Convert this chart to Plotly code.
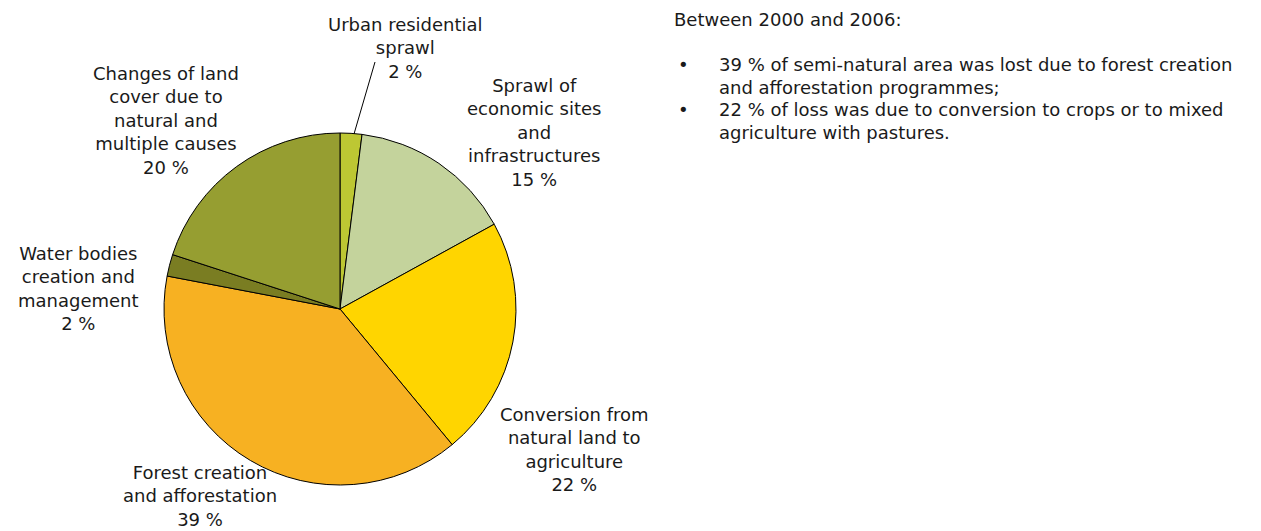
import plotly.graph_objects as go

# Shares of semi-natural area lost, 2000-2006 (%)
categories = [
    "Urban residential sprawl",
    "Sprawl of economic sites and infrastructures",
    "Conversion from natural land to agriculture",
    "Forest creation and afforestation",
    "Water bodies creation and management",
    "Changes of land cover due to natural and multiple causes",
]
shares = [2, 15, 22, 39, 2, 20]
slice_colors = ["#bdc733", "#c4d39c", "#ffd500", "#f7b122", "#7a7d22", "#969e31"]

# Label text (wrapped as drawn) for each slice
label_lines = [
    ["Urban residential", "sprawl"],
    ["Sprawl of", "economic sites", "and", "infrastructures"],
    ["Conversion from", "natural land to", "agriculture"],
    ["Forest creation", "and afforestation"],
    ["Water bodies", "creation and", "management"],
    ["Changes of land", "cover due to", "natural and", "multiple causes"],
]
# Label centres in pixels (x, y from top)
label_pos = [(405, 48), (534, 132), (574, 449), (200, 496), (78, 288), (166, 120)]

W, H = 1261, 531
FONT = "Verdana, DejaVu Sans, sans-serif"
cx, cy, r = 340, 309, 176


def px(x, y):
    return x / W, 1 - y / H


fig = go.Figure(
    go.Pie(
        labels=categories,
        values=shares,
        sort=False,
        direction="clockwise",
        rotation=0,
        marker=dict(colors=slice_colors, line=dict(color="#000000", width=1)),
        textinfo="none",
        hoverinfo="label+percent",
        domain=dict(
            x=[(cx - r) / W, (cx + r) / W],
            y=[1 - (cy + r) / H, 1 - (cy - r) / H],
        ),
        showlegend=False,
    )
)

annotations = []
for lines, val, (x, y) in zip(label_lines, shares, label_pos):
    xp, yp = px(x, y)
    annotations.append(
        dict(
            x=xp, y=yp, xref="paper", yref="paper",
            text="<br>".join(lines + [f"{val} %"]),
            showarrow=False, xanchor="center", yanchor="middle",
            align="center",
            font=dict(family=FONT, size=18, color="#1a1a1a"),
        )
    )

# Side note
note_title = "Between 2000 and 2006:"
note_bullets = [
    ["39 % of semi-natural area was lost due to forest creation",
     "and afforestation programmes;"],
    ["22 % of loss was due to conversion to crops or to mixed",
     "agriculture with pastures."],
]
xp, yp = px(672, 20)
annotations.append(dict(x=xp, y=yp, xref="paper", yref="paper", text=note_title,
                        showarrow=False, xanchor="left", yanchor="middle",
                        font=dict(family=FONT, size=18, color="#1a1a1a")))
line_y = 65
for bullet in note_bullets:
    bx, by = px(676, line_y)
    annotations.append(dict(x=bx, y=by, xref="paper", yref="paper", text="•",
                            showarrow=False, xanchor="left", yanchor="middle",
                            font=dict(family=FONT, size=18, color="#1a1a1a")))
    for line in bullet:
        tx, ty = px(717, line_y)
        annotations.append(dict(x=tx, y=ty, xref="paper", yref="paper", text=line,
                                showarrow=False, xanchor="left", yanchor="middle",
                                font=dict(family=FONT, size=18, color="#1a1a1a")))
        line_y += 22.5

# Leader line for the small urban slice
x0, y0 = px(375, 62)
x1, y1 = px(354, 134)
fig.add_shape(type="line", xref="paper", yref="paper", x0=x0, y0=y0, x1=x1, y1=y1,
              line=dict(color="#000000", width=1))

fig.update_layout(
    width=W, height=H,
    margin=dict(l=0, r=0, t=0, b=0),
    paper_bgcolor="#ffffff",
    plot_bgcolor="#ffffff",
    annotations=annotations,
)

fig.write_html("out.html")
